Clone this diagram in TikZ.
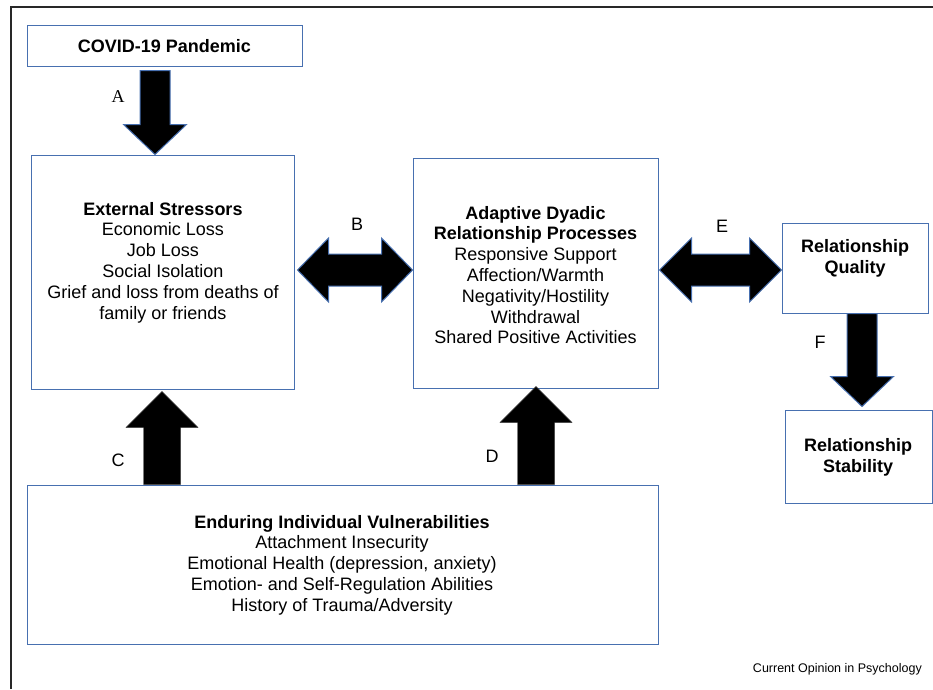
\documentclass[tikz,border=0pt]{standalone}
\usepackage{fontspec}
\setmainfont{Liberation Sans}
\newfontfamily\serifA{Liberation Serif}
\usetikzlibrary{calc}
\definecolor{boxblue}{RGB}{72,112,176}
\definecolor{framegray}{RGB}{40,40,40}
% vertical block arrow pointing down: #1 top centre, #2 tip, #3 half shaft, #4 half head, #5 head length
\newcommand\blkdown[6]{\draw[#6] ($(#1)+({-#3},0)$) -- ($(#1)+({#3},0)$) -- ($(#2)+({#3},{-#5})$) -- ($(#2)+({#4},{-#5})$) -- (#2) -- ($(#2)+({-#4},{-#5})$) -- ($(#2)+({-#3},{-#5})$) -- cycle;}
% vertical block arrow pointing up: #1 bottom centre, #2 tip
\newcommand\blkup[6]{\draw[#6] ($(#1)+({-#3},0)$) -- ($(#1)+({#3},0)$) -- ($(#2)+({#3},{#5})$) -- ($(#2)+({#4},{#5})$) -- (#2) -- ($(#2)+({-#4},{#5})$) -- ($(#2)+({-#3},{#5})$) -- cycle;}
% horizontal double block arrow: #1 left tip, #2 right tip
\newcommand\blkdouble[5]{\draw[blk] (#1) -- ($(#1)+({#5},{-#4})$) -- ($(#1)+({#5},{-#3})$) -- ($(#2)+({-#5},{-#3})$) -- ($(#2)+({-#5},{-#4})$) -- (#2) -- ($(#2)+({-#5},{#4})$) -- ($(#2)+({-#5},{#3})$) -- ($(#1)+({#5},{#3})$) -- ($(#1)+({#5},{#4})$) -- cycle;}
\begin{document}
\begin{tikzpicture}[x=1pt,y=-1pt,
  box/.style={draw=boxblue, line width=1pt, fill=white, inner sep=0pt},
  txt/.style={inner sep=0pt, align=center, font=\fontsize{18}{20.8}\selectfont},
  lbl/.style={inner sep=0pt, font=\fontsize{18}{20}\selectfont},
  blk/.style={fill=black, draw=boxblue, line width=1pt, line join=miter},
  blkplain/.style={fill=black, draw=black!80, line width=0.4pt, line join=miter}]
\useasboundingbox (0,0) rectangle (933,689);
% outer frame
\draw[framegray, line width=1.5pt] (11,689) -- (11,7) -- (933,7);

% boxes
\node[box, minimum width=275pt, minimum height=41pt] (covid) at (164.5,45.5) {};
\node[box, minimum width=263pt, minimum height=234pt] (ext) at (162.5,272) {};
\node[box, minimum width=245pt, minimum height=230pt] (adapt) at (535.5,273) {};
\node[box, minimum width=146pt, minimum height=90pt] (qual) at (855,268) {};
\node[box, minimum width=147pt, minimum height=93pt] (stab) at (858.5,456.5) {};
\node[box, minimum width=631pt, minimum height=159pt] (endur) at (342.5,564.5) {};

% texts
\node[txt] (tcovid) at (164.5,46) {\textbf{COVID-19 Pandemic}};
\node[txt] (text) at (163,262.5) {\textbf{External Stressors}\\Economic Loss\\Job Loss\\Social Isolation\\Grief and loss from deaths of\\family or friends};
\node[txt] (tadapt) at (535.5,275) {\textbf{Adaptive Dyadic}\\\textbf{Relationship Processes}\\Responsive Support\\Affection/Warmth\\Negativity/Hostility\\Withdrawal\\Shared Positive Activities};
\node[txt] (tqual) at (855,258) {\textbf{Relationship}\\\textbf{Quality}};
\node[txt] (tstab) at (858,457.5) {\textbf{Relationship}\\\textbf{Stability}};
\node[txt] (tendur) at (342,565) {\textbf{Enduring Individual Vulnerabilities}\\Attachment Insecurity\\Emotional Health (depression, anxiety)\\Emotion- and Self-Regulation Abilities\\History of Trauma/Adversity};
\node[inner sep=0pt, anchor=east, font=\fontsize{12.5}{14}\selectfont] (credit) at (922,669) {Current Opinion in Psychology};

% labels
\node[lbl, font=\serifA\fontsize{18}{20}\selectfont] (la) at (118,97) {A};
\node[lbl] (lb) at (357,224) {B};
\node[lbl] (le) at (722,226) {E};
\node[lbl] (lf) at (820,342) {F};
\node[lbl] (lc) at (118,460) {C};
\node[lbl] (ld) at (492,456) {D};

% arrow anchor coordinates
\coordinate (aTop) at ($(155,0 |- covid.south)+(0,4)$);
\coordinate (aTip) at (155,0 |- ext.north);
\coordinate (bL) at ($(ext.east |- 0,270)+(3,0)$);
\coordinate (bR) at (adapt.west |- 0,270);
\coordinate (eL) at ($(adapt.east |- 0,270)+(1,0)$);
\coordinate (eR) at (qual.west |- 0,270);
\coordinate (fTop) at (862,0 |- qual.south);
\coordinate (fTip) at ($(862,0 |- stab.north)+(0,-3)$);
\coordinate (cBot) at (162,0 |- endur.north);
\coordinate (cTip) at ($(162,0 |- ext.south)+(0,2)$);
\coordinate (dBot) at (536,0 |- endur.north);
\coordinate (dTip) at ($(536,0 |- adapt.south)+(0,-2)$);

% block arrows
\blkdown{aTop}{aTip}{15}{31.5}{30}{blk}
\blkdown{fTop}{fTip}{15}{31.5}{30}{blk}
\blkup{cBot}{cTip}{18.5}{36}{36}{blkplain}
\blkup{dBot}{dTip}{18.5}{36}{36}{blkplain}
\blkdouble{bL}{bR}{16}{32}{31}
\blkdouble{eL}{eR}{16}{32}{32}
\end{tikzpicture}
\end{document}
